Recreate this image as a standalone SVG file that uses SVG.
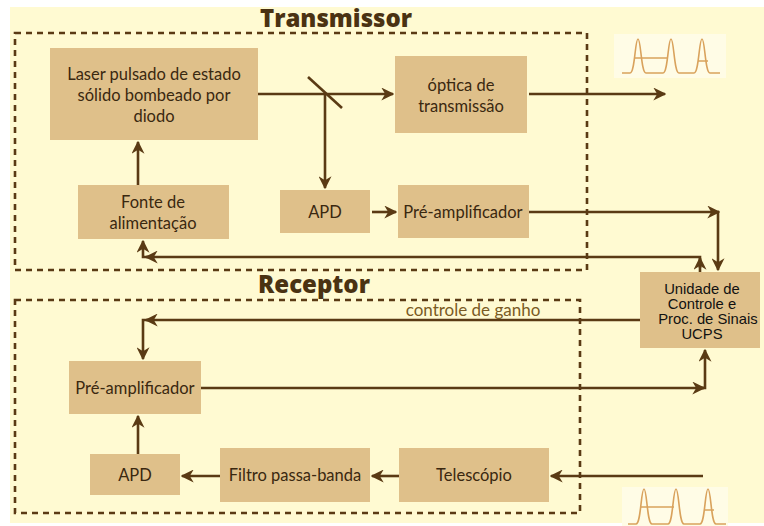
<svg xmlns="http://www.w3.org/2000/svg" width="764" height="526" viewBox="0 0 764 526">
<defs>
<style>
.box{fill:#dfc08a}
.t{font-family:Lato,"Open Sans",sans-serif;font-size:16.5px;fill:#3a2810;text-anchor:middle}
.u{font-family:"Liberation Sans",Arial,sans-serif;font-size:14.8px;fill:#111;text-anchor:middle}
.title{font-family:"Open Sans",Lato,sans-serif;font-weight:800;font-size:24px;fill:#4a3212;text-anchor:middle}
.c{fill:none;stroke:#5a3a14;stroke-width:2.6}
.dash{fill:none;stroke:#5a3a14;stroke-width:2.6;stroke-dasharray:6 5}
.pulse{fill:none;stroke:#d9a25c;stroke-width:1.6}
</style>
<marker id="a" viewBox="0 0 10 10" refX="9" refY="5" markerWidth="5" markerHeight="5" orient="auto" markerUnits="strokeWidth">
<path d="M0,0 L10,5 L0,10 L3,5 z" fill="#5a3a14"/>
</marker>
</defs>
<rect x="0" y="0" width="764" height="526" fill="#ffffff"/>
<rect x="10" y="7" width="754" height="516" fill="#fffad2"/>

<g id="frames">
<rect class="dash" x="15" y="33" width="572" height="237"/>
<rect class="dash" x="15" y="300" width="565" height="213"/>
<text class="title" x="336" y="27">Transmissor</text>
<text class="title" x="314" y="293">Receptor</text>
</g>

<g id="pulse-out">
<rect x="614" y="34" width="112" height="44" fill="#fffce6"/>
<path class="pulse" d="M622,73 L630,73 C635,73 635,39 638,39 C641,39 641,73 646,73 L663,73 C668,73 668,39 671,39 C674,39 674,73 679,73 L694,73 C699,73 699,39 702,39 C705,39 705,73 710,73 L720,73"/>
<path class="pulse" d="M634,58 L668,58 M698,61 L708,61"/>
</g>
<g id="pulse-in">
<rect x="622" y="487" width="106" height="39" fill="#fffce6"/>
<path class="pulse" d="M628,524 L636,524 C641,524 641,489 644,489 C647,489 647,524 652,524 L668,524 C673,524 673,489 676,489 C679,489 679,524 684,524 L700,524 C705,524 705,489 708,489 C711,489 711,524 716,524 L726,524"/>
<path class="pulse" d="M640,507 L674,507 M704,510 L714,510"/>
</g>

<g id="connectors">
<line class="c" x1="258" y1="94" x2="393" y2="94" marker-end="url(#a)"/>
<line class="c" x1="308" y1="77" x2="342" y2="108"/>
<line class="c" x1="325" y1="94" x2="325" y2="188" marker-end="url(#a)"/>
<line class="c" x1="529" y1="94" x2="665" y2="94" marker-end="url(#a)"/>
<line class="c" x1="138" y1="185" x2="138" y2="142" marker-end="url(#a)"/>
<line class="c" x1="372" y1="212" x2="396" y2="212" marker-end="url(#a)"/>
<polyline class="c" points="529,212 718,212 718,270" marker-end="url(#a)"/>
<line class="c" x1="718" y1="212" x2="719" y2="212" marker-end="url(#a)"/>
<polyline class="c" points="700,272 700,257 143,257 143,241" marker-end="url(#a)"/>
<line class="c" x1="700" y1="268" x2="700" y2="258" marker-end="url(#a)"/>
<line class="c" x1="148" y1="257" x2="146" y2="257" marker-end="url(#a)"/>
<polyline class="c" points="640,320 143,320 143,359" marker-end="url(#a)"/>
<line class="c" x1="148" y1="320" x2="146" y2="320" marker-end="url(#a)"/>
<polyline class="c" points="201,388 705,388 705,350" marker-end="url(#a)"/>
<line class="c" x1="700" y1="388" x2="704" y2="388" marker-end="url(#a)"/>
<line class="c" x1="703" y1="476" x2="551" y2="476" marker-end="url(#a)"/>
<line class="c" x1="399" y1="476" x2="372" y2="476" marker-end="url(#a)"/>
<line class="c" x1="220" y1="476" x2="182" y2="476" marker-end="url(#a)"/>
<line class="c" x1="138" y1="454" x2="138" y2="416" marker-end="url(#a)"/>
<text x="473" y="316" style="font-family:Lato,'Open Sans',sans-serif;font-size:17px;fill:#7a5a24;text-anchor:middle">controle de ganho</text>
</g>

<g id="laser">
<rect class="box" x="50" y="48" width="208" height="92"/>
<text class="t" x="154" y="80">Laser pulsado de estado</text>
<text class="t" x="154" y="101">sólido bombeado por</text>
<text class="t" x="154" y="122">diodo</text>
</g>
<g id="optica">
<rect class="box" x="395" y="56" width="132" height="77"/>
<text class="t" x="461" y="91">óptica de</text>
<text class="t" x="461" y="112">transmissão</text>
</g>
<g id="fonte">
<rect class="box" x="78" y="185" width="151" height="54"/>
<text class="t" x="153" y="208">Fonte de</text>
<text class="t" x="153" y="229">alimentação</text>
</g>
<g id="apd-tx">
<rect class="box" x="280" y="190" width="90" height="43"/>
<text class="t" x="325" y="218">APD</text>
</g>
<g id="preamp-tx">
<rect class="box" x="398" y="185" width="131" height="53"/>
<text class="t" x="463" y="218">Pré-amplificador</text>
</g>
<g id="ucps">
<rect class="box" x="640" y="272" width="120" height="76"/>
<text class="u" x="702" y="294">Unidade de</text>
<text class="u" x="702" y="309">Controle e</text>
<text class="u" x="708" y="324">Proc. de Sinais</text>
<text class="u" x="702" y="339">UCPS</text>
</g>
<g id="preamp-rx">
<rect class="box" x="69" y="361" width="132" height="53"/>
<text class="t" x="135" y="394">Pré-amplificador</text>
</g>
<g id="apd-rx">
<rect class="box" x="90" y="454" width="90" height="41"/>
<text class="t" x="135" y="481">APD</text>
</g>
<g id="filtro">
<rect class="box" x="220" y="448" width="150" height="54"/>
<text class="t" x="295" y="481">Filtro passa-banda</text>
</g>
<g id="telescopio">
<rect class="box" x="399" y="448" width="150" height="54"/>
<text class="t" x="474" y="481">Telescópio</text>
</g>
</svg>
